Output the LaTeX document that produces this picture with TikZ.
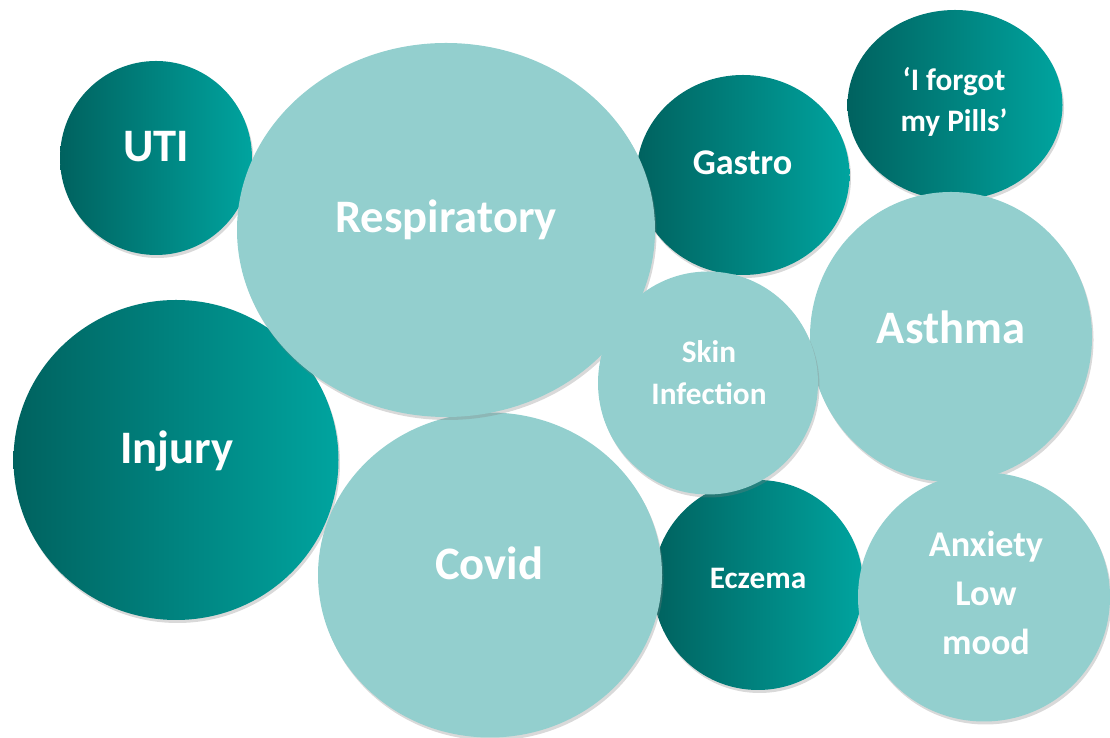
\documentclass[tikz,border=0pt]{standalone}
\usepackage{fontspec}
\setmainfont{Carlito}
\usetikzlibrary{positioning, shapes.geometric, shadows}

\definecolor{tealdark}{HTML}{00625F}
\definecolor{teallight}{HTML}{00A49F}
\definecolor{tealpale}{HTML}{93CFCE}

\begin{document}
\begin{tikzpicture}[
        bubble/.style={ellipse, inner sep=0pt, drop shadow={shadow xshift=0.03cm, shadow yshift=-0.06cm, opacity=0.3}},
        dark/.style={bubble, left color=tealdark, right color=teallight},
        pale/.style={bubble, fill=tealpale},
        big/.style={text=white, font=\bfseries\fontsize{26.5}{32}\selectfont},
        mid/.style={text=white, align=center, font=\bfseries\fontsize{20.6}{28}\selectfont},
        small/.style={text=white, align=center, font=\bfseries\fontsize{17.8}{23.6}\selectfont}
    ]
    \useasboundingbox (0,0) rectangle (22.2,14.76);

    % dark bubbles
    \node[dark, minimum width=3.84cm, minimum height=3.88cm] (UTI) at (3.12,11.6) {};
    \node[big] (UTIlabel) at (3.12,11.82) {UTI};

    \node[dark, minimum width=4.26cm, minimum height=4.0cm] (Gastro) at (14.86,11.26) {};
    \node[mid] (Gastrolabel) at (14.85,11.5) {Gastro};

    \node[dark, minimum width=4.3cm, minimum height=3.8cm] (Pills) at (19.1,12.66) {};
    \node[small] (Pillslabel) at (19.08,12.72) {‘I forgot\\my Pills’};

    \node[dark, minimum width=6.5cm, minimum height=6.4cm] (Injury) at (3.52,5.56) {};
    \node[big] (Injurylabel) at (3.54,5.74) {Injury};

    \node[dark, minimum width=4.2cm, minimum height=4.2cm] (Eczema) at (15.16,3.06) {};
    \node[small] (Eczemalabel) at (15.16,3.2) {Eczema};

    % pale bubbles
    \node[pale, minimum width=6.88cm, minimum height=6.5cm] (Covid) at (9.8,3.26) {};
    \node[big] (Covidlabel) at (9.78,3.5) {Covid};

    \node[pale, minimum width=8.36cm, minimum height=7.48cm] (Resp) at (8.92,10.16) {};
    \node[big] (Resplabel) at (8.92,10.36) {Respiratory};

    \node[pale, minimum width=5.64cm, minimum height=5.8cm] (Asthma) at (19.02,8.02) {};
    \node[big] (Asthmalabel) at (19.02,8.22) {Asthma};

    \node[pale, minimum width=4.4cm, minimum height=4.46cm] (Skin) at (14.16,7.1) {};
    \node[small] (Skinlabel) at (14.18,7.31) {Skin\\Infection};

    \node[pale, minimum width=5.04cm, minimum height=4.98cm] (Anxiety) at (19.68,2.82) {};
    \node[mid] (Anxietylabel) at (19.72,2.9) {Anxiety\\Low\\mood};

\end{tikzpicture}
\end{document}
